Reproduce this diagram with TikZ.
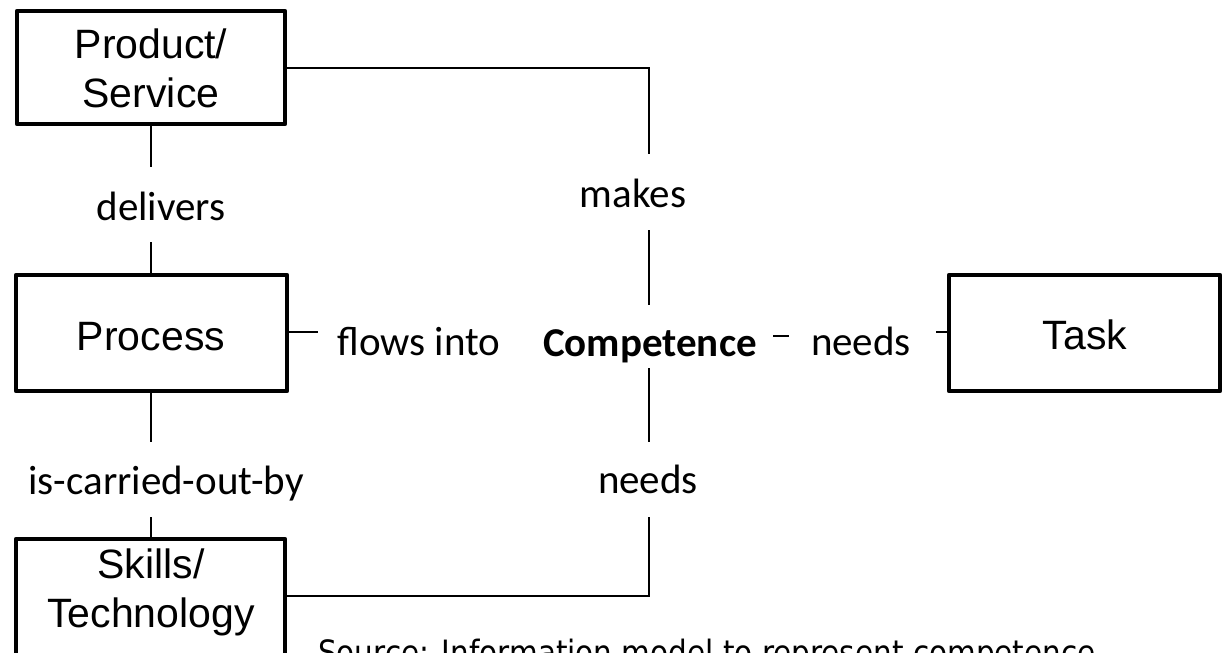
\documentclass[tikz,border=0pt]{standalone}
\usepackage{fontspec}
\setmainfont{Liberation Sans}
\newfontfamily\labelfont{Carlito}
\newfontfamily\notefont{DejaVu Sans}
\begin{document}
\begin{tikzpicture}[x=1pt,y=-1pt,
  entity/.style={draw=black,line width=4.5pt,line join=round},
  boxtext/.style={font=\fontsize{41}{49}\selectfont,anchor=base,inner sep=0pt},
  relation/.style={font=\labelfont\fontsize{41}{49}\selectfont,anchor=base,inner sep=0pt},
  link/.style={draw=black,line width=1.6pt}]
\useasboundingbox (0,0) rectangle (1226,653);
\clip (0,0) rectangle (1226,653);

% entity boxes
\draw[entity] (17,11) rectangle (285,124);
\draw[entity] (16,275) rectangle (287,391);
\draw[entity] (16,539) rectangle (285,660);
\draw[entity] (949,275) rectangle (1220,391);

\node[boxtext] (prod1) at (151,58) {Product/};
\node[boxtext] (prod2) at (151,107) {Service};
\node[boxtext] (proc) at (151,350) {Process};
\node[boxtext] (skill1) at (151,578) {Skills/};
\node[boxtext] (skill2) at (151,627) {Technology};
\node[boxtext] (task) at (1085,349) {Task};

% relation labels
\node[relation] (delivers) at (161,220) {delivers};
\node[relation] (carried) at (166,494) {is-carried-out-by};
\node[relation] (makes) at (633,207) {makes};
\node[relation] (flows) at (419,355) {flows into};
\node[relation,font=\labelfont\bfseries\fontsize{41}{49}\selectfont] (comp) at (650,356) {Competence};
\node[relation] (needsT) at (861,355) {needs};
\node[relation] (needsS) at (648,493) {needs};

% connector ends
\coordinate (pE) at (287,68);
\coordinate (pS) at (151,126);
\coordinate (dT) at (151,167);
\coordinate (dB) at (151,242);
\coordinate (rT) at (151,273);
\coordinate (rE) at (289,332);
\coordinate (fW) at (318,332);
\coordinate (rS) at (151,393);
\coordinate (cT) at (151,442);
\coordinate (cB) at (151,517);
\coordinate (sT) at (151,537);
\coordinate (mT) at (649,154);
\coordinate (mB) at (649,230);
\coordinate (kT) at (649,305);
\coordinate (kB) at (649,368);
\coordinate (nT) at (649,442);
\coordinate (nB) at (649,517);
\coordinate (sE) at (287,596);
\coordinate (kE1) at (773,336);
\coordinate (kE2) at (789,336);
\coordinate (tW1) at (936,332);
\coordinate (tW) at (947,332);

% connectors
\draw[link] (pE) -| (mT);
\draw[link] (mB) -- (kT);
\draw[link] (pS) -- (dT);
\draw[link] (dB) -- (rT);
\draw[link] (rE) -- (fW);
\draw[link] (rS) -- (cT);
\draw[link] (cB) -- (sT);
\draw[link] (kB) -- (nT);
\draw[link] (nB) |- (sE);
\draw[link] (kE1) -- (kE2);
\draw[link] (tW1) -- (tW);

% source note
\node[font=\notefont\fontsize{33.5}{40}\selectfont,anchor=base west,inner sep=0pt] (source) at (318,664) {\scalebox{0.88}[1]{Source: Information model to represent competence}};
\end{tikzpicture}
\end{document}
